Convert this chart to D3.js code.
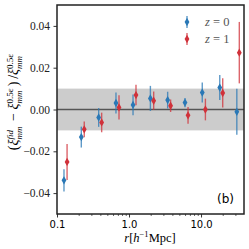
<!DOCTYPE html>
<html lang="en">
<head>
  <meta charset="UTF-8">
  <title>xi ratio</title>
  <script src="https://d3js.org/d3.v7.min.js"></script>
  <style>
    * { margin: 0; padding: 0; box-sizing: border-box; }
    body { width: 249px; height: 249px; background: #fff; overflow: hidden; }
  </style>
</head>
<body>
  <div id="chart"></div>

  <script>
    // data
    const rZ0 = [0.125, 0.2175, 0.379, 0.659, 1.137, 1.98, 3.44, 5.99, 10.4, 18.2, 31.4];
    const valZ0 = [-0.0339, -0.0132, -0.0038, 0.0031, 0.0022, 0.0053, 0.0045, 0.0033, 0.0081, 0.0105, -0.0011];
    const errZ0 = [0.0053, 0.005, 0.0045, 0.005, 0.005, 0.006, 0.004, 0.0022, 0.0048, 0.006, 0.011];

    const rZ1 = [0.138, 0.239, 0.417, 0.726, 1.25, 2.2, 3.78, 6.6, 11.5, 20.0, 34.0];
    const valZ1 = [-0.0251, -0.0095, -0.0062, 0.001, 0.0069, 0.0042, 0.0018, -0.0028, 0.0, 0.0079, 0.0272];
    const errZ1 = [0.0086, 0.0038, 0.0047, 0.0058, 0.0049, 0.0044, 0.003, 0.004, 0.0052, 0.007, 0.0147];

    const xTicks = [0.1, 1, 10];
    const xTickLabels = ['0.1', '1.0', '10.0'];
    const yTicks = [-0.04, -0.02, 0, 0.02, 0.04];

    const width = 249, height = 249;
    const margin = { left: 57, right: 5, top: 5, bottom: 35 };

    const svg = d3.select('#chart').append('svg')
      .attr('width', width)
      .attr('height', height);

    const x = d3.scaleLog().domain([0.1, 39.5]).range([margin.left, width - margin.right]);
    const y = d3.scaleLinear().domain([-0.05, 0.05]).range([height - margin.bottom, margin.top]);

    // shaded band +-1%
    svg.append('rect')
      .attr('x', margin.left)
      .attr('width', width - margin.right - margin.left)
      .attr('y', y(0.01))
      .attr('height', y(-0.01) - y(0.01))
      .attr('fill', '#cccccc');

    svg.append('line')
      .attr('x1', margin.left).attr('x2', width - margin.right)
      .attr('y1', y(0)).attr('y2', y(0))
      .attr('stroke', '#555').attr('stroke-width', 1.5);

    // axes
    const minor = [];
    [0.1, 1, 10].forEach(d => { for (let k = 2; k <= 9; k++) if (d * k < 39.5) minor.push(d * k); });

    svg.append('g')
      .attr('transform', `translate(0,${height - margin.bottom})`)
      .call(d3.axisBottom(x).tickValues(minor).tickSize(2).tickFormat(''))
      .call(g => g.select('.domain').remove())
      .call(g => g.selectAll('line').attr('stroke', '#000').attr('stroke-width', 0.6));

    svg.append('g')
      .attr('transform', `translate(0,${height - margin.bottom})`)
      .call(d3.axisBottom(x).tickValues(xTicks).tickSize(3.5).tickPadding(3.5)
        .tickFormat((d, i) => xTickLabels[i]))
      .call(g => g.select('.domain').remove())
      .call(g => g.selectAll('line').attr('stroke', '#000').attr('stroke-width', 0.8))
      .call(g => g.selectAll('text').attr('font-family', 'DejaVu Sans').attr('font-size', 10).attr('fill', '#000'));

    svg.append('g')
      .attr('transform', `translate(${margin.left},0)`)
      .call(d3.axisLeft(y).tickValues(yTicks).tickSize(3.5).tickPadding(3.5)
        .tickFormat(d => d3.format('.2f')(d).replace('-', '\u2212')))
      .call(g => g.select('.domain').remove())
      .call(g => g.selectAll('line').attr('stroke', '#000').attr('stroke-width', 0.8))
      .call(g => g.selectAll('text').attr('font-family', 'Liberation Serif').attr('font-size', 11.5).attr('fill', '#222'));

    // error bars and markers
    const series = [
      { r: rZ0, v: valZ0, e: errZ0, color: '#2a78b6', label: '0' },
      { r: rZ1, v: valZ1, e: errZ1, color: '#d0313a', label: '1' }
    ];
    const diamond = d3.symbol().type(d3.symbolDiamond).size(20);

    series.forEach(s => {
      const g = svg.append('g');
      const pts = s.r.map((r, i) => ({ r: r, v: s.v[i], e: s.e[i] }));
      g.selectAll('line').data(pts).enter().append('line')
        .attr('x1', d => x(d.r)).attr('x2', d => x(d.r))
        .attr('y1', d => y(d.v - d.e)).attr('y2', d => y(d.v + d.e))
        .attr('stroke', s.color).attr('stroke-opacity', 0.75).attr('stroke-width', 1.4);
      g.selectAll('path').data(pts).enter().append('path')
        .attr('d', diamond)
        .attr('transform', d => `translate(${x(d.r)},${y(d.v)})`)
        .attr('fill', s.color);
    });

    // frame
    svg.append('rect')
      .attr('x', margin.left).attr('y', margin.top)
      .attr('width', width - margin.right - margin.left)
      .attr('height', height - margin.bottom - margin.top)
      .attr('fill', 'none').attr('stroke', '#222').attr('stroke-width', 1.5);

    // legend
    series.forEach((s, i) => {
      const ly = 22 + i * 17;
      svg.append('line')
        .attr('x1', 187).attr('x2', 187).attr('y1', ly - 6).attr('y2', ly + 6)
        .attr('stroke', s.color).attr('stroke-opacity', 0.75).attr('stroke-width', 1.4);
      svg.append('path').attr('d', diamond).attr('transform', `translate(187,${ly})`).attr('fill', s.color);
      const t = svg.append('text').attr('x', 205).attr('y', ly + 4)
        .attr('font-family', 'Liberation Serif').attr('font-size', 12.5).attr('fill', '#555');
      t.append('tspan').attr('font-style', 'italic').text('z');
      t.append('tspan').text(' = ' + s.label);
    });

    // panel tag
    svg.append('text').attr('x', 234).attr('y', 203)
      .attr('text-anchor', 'end')
      .attr('font-family', 'DejaVu Sans').attr('font-size', 12)
      .text('(b)');

    // x label
    const xl = svg.append('text').attr('x', 150).attr('y', 242)
      .attr('text-anchor', 'middle')
      .attr('font-family', 'Liberation Serif').attr('font-size', 12.5);
    xl.append('tspan').attr('font-style', 'italic').text('r');
    xl.append('tspan').text('[');
    xl.append('tspan').attr('font-style', 'italic').text('h');
    xl.append('tspan').attr('font-size', 8.5).attr('dy', -5).text('\u22121');
    xl.append('tspan').attr('dy', 5).text('Mpc]');

    // y label with stacked super/subscripts
    const yl = svg.append('text')
      .attr('font-family', 'Liberation Serif').attr('font-size', 14)
      .attr('text-anchor', 'start');

    function xi(sup) {
      yl.append('tspan').attr('font-style', 'italic').text('\u03be');
      const a = yl.append('tspan').attr('font-size', 9).attr('dy', -5.5)
        .attr('font-style', sup === 'fid' ? 'italic' : 'normal').text(sup);
      const w = a.node().getComputedTextLength();
      const b = yl.append('tspan').attr('font-size', 9).attr('font-style', 'italic')
        .attr('dx', -w).attr('dy', 9).text('mm');
      const w2 = b.node().getComputedTextLength();
      yl.append('tspan').attr('dx', Math.max(0, w - w2) + 1).attr('dy', -3.5).text('\u200a');
    }
    yl.append('tspan').text('(');
    xi('fid');
    yl.append('tspan').text(' \u2212 ');
    xi('0.5\u03b5');
    yl.append('tspan').text(')\u2009/');
    xi('0.5\u03b5');

    // centre the label between y = 45 and y = 158
    const bb = yl.node().getBBox();
    const mid = 101;
    yl.attr('transform', `translate(18,${mid + bb.x + bb.width / 2}) rotate(-90)`);
  </script>
</body>
</html>
